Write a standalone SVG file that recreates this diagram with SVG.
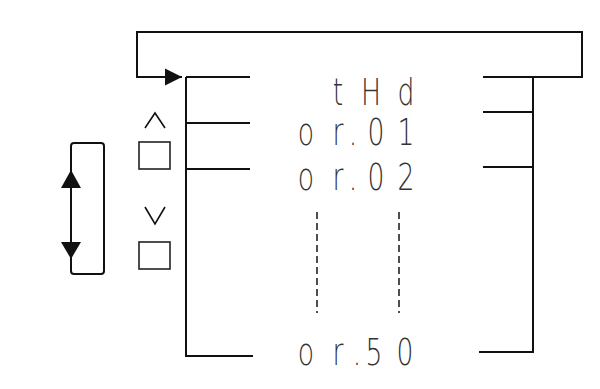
<svg xmlns="http://www.w3.org/2000/svg" width="600" height="389" viewBox="0 0 600 389">
<style>
.ln{fill:none;stroke:#111;stroke-width:2}
.dash{fill:none;stroke:#222;stroke-width:1.6;stroke-dasharray:7 4}
.head{fill:#111}
.key{fill:#fff;stroke:#222;stroke-width:1.6}
.seg{font-family:"DejaVu Sans","Liberation Sans",sans-serif;font-size:37px;font-weight:300;fill:#333;text-anchor:middle}
</style>
<defs>
<marker id="arr" viewBox="0 0 10 10" refX="10" refY="5" markerWidth="17" markerHeight="18" markerUnits="userSpaceOnUse" orient="auto">
<path d="M0,0 L10,5 L0,10 Z" class="head"/>
</marker>
</defs>
<rect width="600" height="389" fill="#fff"/>
<g id="connectors">
<path class="ln" d="M483,77 H582 V32 H137 V77 H182" marker-end="url(#arr)"/>
<path class="ln" d="M186,77 V356 H253"/>
<path class="ln" d="M186,77 H250 M186,123 H250 M186,169 H250"/>
<path class="ln" d="M533,77 V352 H479"/>
<path class="ln" d="M483,77 H533 M483,112 H533 M483,167 H533"/>
<path class="dash" d="M317,212 V313 M399,212 V313"/>
</g>
<g id="scroll">
<rect class="ln" x="71" y="143" width="33" height="131" rx="3"/>
<polygon class="head" points="71,170 61,188 81,188"/>
<polygon class="head" points="71,259 61,242 81,242"/>
</g>
<g id="key-up">
<polyline class="ln" style="stroke-width:1.6" points="145,128 155,113 165,128"/>
<rect class="key" x="139" y="142" width="31" height="27"/>
</g>
<g id="key-down">
<polyline class="ln" style="stroke-width:1.6" points="145,207 155,224 165,207"/>
<rect class="key" x="139" y="242" width="31" height="27"/>
</g>
<g transform="scale(0.72 1)">
<g id="thd"><text class="seg" x="469.4 515.3 563.9" y="105">tHd</text></g>
<g id="or01"><text class="seg" x="425 469.4 490.3 522.2 563.9" y="145">or.01</text></g>
<g id="or02"><text class="seg" x="425 469.4 490.3 522.2 563.9" y="190">or.02</text></g>
<g id="or50"><text class="seg" x="425 469.4 495.8 519.4 562.5" y="365">or.50</text></g>
</g>
</svg>
